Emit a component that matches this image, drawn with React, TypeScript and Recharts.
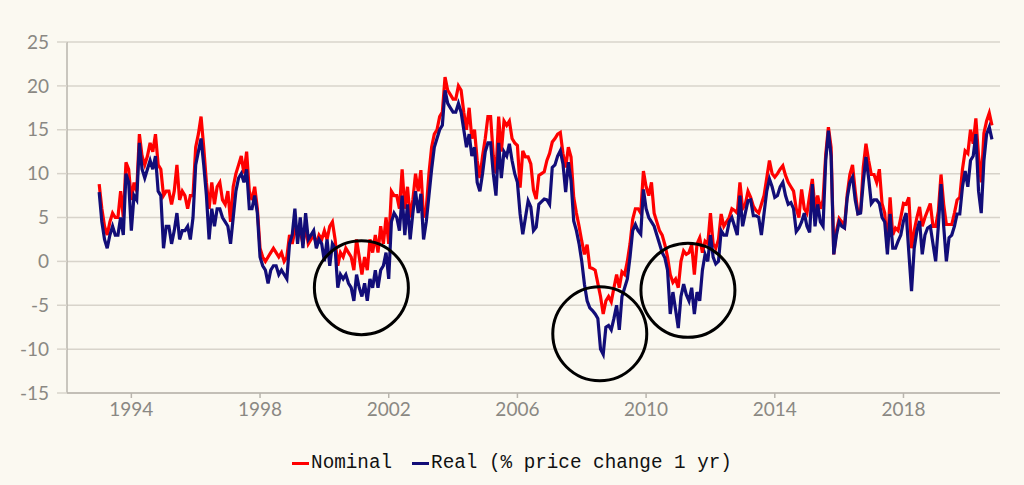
import React from "react";
import {
  LineChart,
  Line,
  XAxis,
  YAxis,
  CartesianGrid,
  Legend,
  ReferenceDot,
} from "recharts";

// monthly series, first value = Jan 1993
const START_YEAR = 1993;

const nominal = [
  8.8, 6, 4, 3, 4.5, 5.5, 5, 5, 8, 5, 11.3, 10.5,
  7, 9, 8, 14.5, 12, 11, 12, 13.5, 12.5, 14.5, 11, 10.5,
  7.5, 8, 8, 6.5, 8, 11, 7, 8, 7.5, 6, 7.5, 7.5,
  13, 14.5, 16.5, 13, 9, 6, 9, 6.5, 8.5, 9, 7, 6.5,
  8, 4.5, 8.5, 10, 11, 12, 10, 12.5, 8, 7, 8.5, 6,
  1.5, 0.5, 0, 0.5, 1, 1.5, 1, 0.5, 1, 0, 0.5, 3,
  2, 3.5, 3, 3.5, 2, 4, 2, 2.5, 3, 2, 3, 2.5,
  3.5, 2.5, 4, 4.5, 2.5, -0.5, 1, 0.5, 1.5, 1, 0.5, -1,
  2.5, 0.5, -1.5, 0.5, -1, 2.5, 1, 3, 1, 4, 2, 5,
  2, 8, 7.5, 7.5, 6, 10.5, 6, 8.5, 5, 7, 10, 8,
  10.4, 5, 6, 10, 13, 14.5, 15, 16.5, 17, 21, 19.5, 19,
  18.5, 18.5, 20, 19.5, 17, 15, 17.5, 14, 15, 11.5, 9.5, 12,
  14, 16.5, 16.5, 12, 10, 16.5, 12.5, 16, 15.5, 16, 14, 13.5,
  13.2, 8.4, 12.6, 11.9, 11.9, 11.1, 8.1, 7.1, 9.8, 10, 10.2, 11.5,
  12.3, 13.6, 14, 14.5, 14.7, 12.3, 10.7, 13, 11.9, 7.3, 5.5, 4,
  2.3, 0.8, 1.9, -0.7, -0.8, -1, -2.5, -4, -6, -4.5, -4, -4.6,
  -3, -1.5, -3, -1.2, -1.5, 0, 2, 4.8, 6, 6, 5.5, 10.3,
  8.5, 7.5, 9, 5.5, 4.5, 3.5, 3, 1.9, 0.5, -1.5, -2.4, -2,
  -3, 0, 1.2, 0.8, 1, 1.9, -1.5, 2, 2.7, 1, 2.3, 2,
  5.5, 2, 1.5, 2.5, 5.4, 4, 4.5, 5, 6, 5.8, 5.5, 9,
  6, 6.5, 8, 7.3, 6.3, 5.8, 5.5, 6.5, 7.5, 9.5, 11.5, 10,
  9.6, 10, 10.5, 10.9, 9.8, 9, 8.5, 8, 6, 5, 8.2, 6,
  5.5, 7.5, 9.4, 6, 7.5, 6, 7, 12.2, 15.3, 13, 0.8, 3.5,
  4.9, 4.5, 4, 7.6, 9.9, 11, 8, 5.5, 5.7, 10.7, 13.4, 11.5,
  9.9, 9.9, 9, 10.5, 6.6, 5.5, 1.5, 7.3, 3, 3.8, 3.5, 5,
  6.6, 6.5, 7.3, 1.5, 3.5, 5, 6.2, 4, 5, 5.8, 6.6, 4,
  4, 5.7, 9.9, 6.5, 4.2, 4.2, 4.2, 5.5, 7, 7.3, 10.5, 12.6,
  12.3, 15, 13.4, 16.3, 12, 9, 14.6, 16, 16.9, 15.5,
];

const real = [
  7.9, 4.5, 2.5, 1.5, 3, 4, 3, 3, 5, 3, 10, 9,
  3.5, 7.5, 7, 13.5, 10.5, 9.5, 10.5, 11.5, 10.5, 12, 8, 7.5,
  1.5, 4, 4, 2, 3.5, 5.5, 2.5, 3.5, 3.5, 4, 2.5, 5,
  11, 12.5, 14, 11, 7.5, 2.5, 6, 4, 6, 6, 5, 4.5,
  4, 2, 5, 8, 9.5, 10, 9, 10.5, 6, 6, 7.5, 5.5,
  0.5, -0.5, -1, -2.5, -1, -0.5, -0.5, -1.5, -1, -1.5, -2, 2,
  3, 6, 2, 5, 1.5, 5.5, 2.5, 3, 3.5, 1.5, 2.5, 2,
  0, 2.5, -0.5, 2, 1.5, -3, -1.5, -2, -1.5, -2.5, -3, -4.5,
  -1.5, -3, -4, -2.5, -4.5, -2, -3, -1, -3, -1, -0.5, 1,
  -2, 4.5, 5.5, 5, 3.5, 7.5, 3, 6.5, 2.5, 5.5, 8, 5.5,
  7.7, 2.5, 4.5, 7.5, 10.5, 13, 14, 15, 15.5, 19.5, 18, 17.5,
  17, 17, 18, 17, 15, 13, 14.5, 12, 13, 9, 8, 10,
  12.5, 13.5, 13.5, 10, 7.5, 13.5, 9.5, 12.5, 12, 13.4, 11.5, 10,
  9, 5.4, 3.1, 5, 6.9, 6.2, 3.5, 3.9, 6.5, 6.8, 7.1, 7,
  6.5, 10.7, 11, 12, 12.6, 11.1, 7.9, 11.3, 9.2, 4.6, 3.5, 2,
  0, -2.6, -4.5, -5.3, -5.6, -6, -6.5, -10, -10.6, -7.5, -7.3, -7.8,
  -6.5, -5, -7.8, -4, -3, -2, 0.5, 3.5, 4.2, 3.5, 3.1, 8.2,
  6, 5, 4.5, 4, 3, 2, 1, 0.4, -1, -6, -3.5, -5.5,
  -7.6, -4, -2.6, -3.8, -4.5, -3, -6, -3.5, -4.5, -1, 0.8, 0,
  3, 0.5, -0.3, 0, 3.5, 3, 3, 4.5, 5, 4, 3, 7.5,
  4, 5.5, 6.9, 7, 5.2, 5.2, 5, 3, 5.5, 8, 9.4, 8.5,
  7.3, 7.5, 8.5, 9, 7.5, 6.5, 6.7, 6, 3.4, 3.8, 4.5, 5.5,
  4, 3.3, 8.8, 4, 6.5, 4.5, 4, 11.5, 14.9, 12, 0.8, 3,
  4.5, 4, 3.8, 7.2, 9, 9.6, 7, 5.4, 5.5, 9, 11.9, 9.5,
  6.6, 7, 7, 6.6, 5, 4.5, 0.8, 5.4, 1.5, 1.5, 2.3, 3,
  4.6, 5.5, 1, -3.4, 1.5, 3.5, 4.6, 0.8, 3, 3.8, 4, 2,
  0, 4, 8.8, 4, 0, 2.7, 3, 4, 5.4, 5.4, 8.5, 10.3,
  8.5, 11.5, 12, 14.5, 8, 5.5, 11.5, 14.5, 15.3, 13.9,
];

const yearTicks = [1994, 1998, 2002, 2006, 2010, 2014, 2018];
const valueTicks = [-15, -10, -5, 0, 5, 10, 15, 20, 25];

// circled episodes (year, % change)
const highlights = [
  { x: 2001.15, y: -3.0 },
  { x: 2008.56, y: -8.25 },
  { x: 2011.3, y: -3.3 },
];

const rows = nominal.map((v, i) => ({
  t: START_YEAR + i / 12,
  nominal: v,
  real: real[i],
}));

const RED = "#ff0000";
const NAVY = "#120d78";
const BG = "#fbf9f1";
const GRID = "#d8d4cb";
const TICK_TEXT = "#8a8883";

function ChartLegend() {
  const item = (color: string, label: string, gap: number) => (
    <span style={{ display: "inline-flex", alignItems: "center", marginRight: gap }}>
      <span style={{ width: 17, height: 3, background: color, marginRight: 2 }} />
      <span>{label}</span>
    </span>
  );
  return (
    <div
      style={{
        height: 40,
        paddingTop: 20,
        boxSizing: "border-box",
        display: "flex",
        justifyContent: "center",
        lineHeight: "20px",
        fontFamily: "'Liberation Mono', 'DejaVu Sans Mono', monospace",
        fontSize: 19.3,
        color: "#111",
        whiteSpace: "pre",
      }}
    >
      {item(RED, "Nominal", 20)}
      {item(NAVY, "Real (% price change 1 yr)", 0)}
    </div>
  );
}

export default function App() {
  return (
    <div style={{ position: "absolute", left: 0, top: 0, width: 1024, height: 485, background: BG }}>
      <LineChart
        width={1024}
        height={485}
        data={rows}
        margin={{ top: 42, right: 24, left: 0, bottom: 12 }}
      >
        <CartesianGrid vertical={false} stroke={GRID} strokeWidth={1.5} />
        <XAxis
          dataKey="t"
          type="number"
          domain={[1992, 2021]}
          ticks={yearTicks}
          height={40}
          tickSize={5}
          tickMargin={5}
          stroke="#b9b5ad"
          strokeWidth={1.5}
          tick={{ fill: TICK_TEXT, fontSize: 19, fontFamily: "Lato, 'Open Sans', sans-serif" }}
          allowDataOverflow
        />
        <YAxis
          domain={[-15, 25]}
          ticks={valueTicks}
          width={67}
          tickSize={10}
          tickMargin={8}
          stroke="#b9b5ad"
          strokeWidth={1.5}
          tickLine={{ stroke: GRID }}
          tick={{ fill: TICK_TEXT, fontSize: 19, fontFamily: "Lato, 'Open Sans', sans-serif" }}
        />
        <Legend
          verticalAlign="bottom"
          content={<ChartLegend />}
          wrapperStyle={{ left: 0, width: 1024 }}
        />
        <Line
          dataKey="nominal"
          name="Nominal"
          stroke={RED}
          strokeWidth={3.2}
          dot={false}
          type="linear"
          isAnimationActive={false}
        />
        <Line
          dataKey="real"
          name="Real (% price change 1 yr)"
          stroke={NAVY}
          strokeWidth={3.2}
          dot={false}
          type="linear"
          isAnimationActive={false}
        />
        {highlights.map((h, i) => (
          <ReferenceDot
            key={i}
            x={h.x}
            y={h.y}
            r={47}
            fill="none"
            stroke="#000"
            strokeWidth={3}
          />
        ))}
      </LineChart>
    </div>
  );
}
